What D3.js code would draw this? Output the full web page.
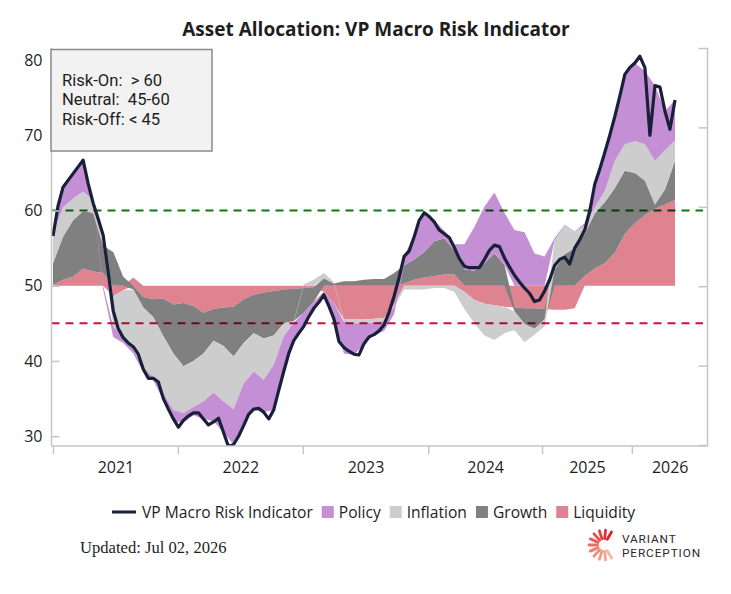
<!DOCTYPE html>
<html>
<head>
<meta charset="utf-8">
<script src="https://cdn.jsdelivr.net/npm/d3@7"></script>
<style>
  body { margin: 0; background: #fff; }
  svg text { font-family: "Open Sans", "Noto Sans", sans-serif; fill: #1e1e1e; }
</style>
</head>
<body>
<svg id="chart" width="731" height="594"></svg>
<script>
// VP Macro Risk Indicator, one value per period (line)
const riskLine = [
  56.6, 60.6, 63.1, 64.0, 64.9, 65.8, 66.7, 63.6, 61.0, 58.9,
  56.7, 51.8, 46.7, 44.3, 43.1, 42.4, 41.9, 40.9, 38.9, 37.7,
  37.7, 37.2, 35.0, 33.6, 32.3, 31.2, 32.1, 32.7, 33.1, 33.1,
  32.3, 31.5, 31.9, 32.4, 30.5, 28.6, 28.9, 30.0, 31.4, 32.9,
  33.6, 33.7, 33.2, 32.3, 33.5, 36.1, 38.6, 41.0, 42.7, 43.7,
  44.6, 45.9, 47.0, 47.8, 48.8, 47.3, 45.6, 42.6, 41.8, 41.3,
  40.9, 40.8, 42.3, 43.2, 43.5, 44.0, 44.8, 46.5, 48.6, 51.1,
  53.9, 54.6, 56.5, 58.7, 59.7, 59.2, 58.5, 57.4, 56.9, 56.4,
  55.1, 53.6, 52.6, 52.4, 52.4, 52.4, 53.5, 54.7, 55.4, 55.2,
  53.7, 52.5, 51.4, 50.5, 49.7, 49.0, 47.9, 48.1, 49.3, 50.8,
  52.7, 53.5, 53.8, 52.9, 55.0, 56.1, 57.4, 59.9, 63.5, 65.5,
  67.7, 70.0, 72.5, 75.2, 78.1, 79.0, 79.6, 80.5, 79.0, 70.0,
  76.6, 76.4, 73.2, 70.8, 74.7
];

// contributions around the neutral level, every second period
const liquidity = [
  0.1, 0.8, 1.2, 2.3, 1.9, 1.7, -1.4, -0.6, 1.1, -1.5,
  -1.8, -1.7, -2.5, -2.3, -2.7, -3.6, -3.1, -2.9, -2.8, -1.8,
  -1.2, -0.9, -0.7, -0.5, -0.4, -0.3, -0.2, -0.8, -2.3, -4.5,
  -4.5, -4.5, -4.4, -4.3, -2.5, 0.3, 0.8, 1.1, 1.3, 1.5,
  1.5, -0.8, -1.9, -2.4, -2.6, -2.8, -2.9, -3.0, -3.0, -3.1,
  -3.2, -3.2, -3.0, 1.3, 2.3, 3.0, 4.4, 6.9, 8.3, 9.4,
  10.2, 10.8, 11.4
];
const growth = [
  2.9, 5.7, 7.5, 7.6, 7.8, 3.6, 4.5, 1.2, -0.5, -1.4,
  -2.4, -5.0, -6.5, -8.4, -7.3, -5.4, -4.2, -5.1, -6.6, -5.8,
  -5.1, -6.1, -5.9, -4.5, -4.3, -3.3, -1.9, 1.0, 0.3, 0.6,
  0.6, 0.8, 0.9, 0.9, 1.7, 2.4, 2.7, 3.4, 4.6, 4.8,
  3.2, 2.2, 2.0, 3.0, 4.3, 2.8, -0.5, -2.1, -2.7, -1.4,
  2.1, 4.2, 5.0, 5.6, 7.3, 8.1, 8.6, 8.4, 6.7, 4.6,
  0.6, 2.0, 5.2
];
const inflation = [
  3.8, 3.9, 2.9, 2.6, 1.7, 0.2, -4.0, -6.4, -8.0, -8.1,
  -7.9, -7.6, -7.5, -6.2, -6.1, -6.4, -6.9, -7.4, -7.0, -5.4,
  -5.1, -5.5, -3.9, -1.7, -0.2, 0.2, 0.8, 0.7, 0.2, -0.3,
  -0.5, -0.5, -0.5, -0.4, -0.3, -0.5, -0.5, -0.5, -0.3, -0.3,
  -0.8, -2.3, -3.1, -4.2, -4.6, -3.5, -2.5, -2.4, -0.8, -0.9,
  3.9, 3.8, 2.2, 1.1, 0.8, 1.5, 3.6, 3.5, 4.2, 4.8,
  5.8, 5.2, 2.7
];
const policy = [
  0.1, 2.7, 3.3, 4.2, 0.2, -0.5, -1.4, -0.6, -0.5, -0.5,
  -0.5, -0.9, -1.5, -1.3, -1.1, -2.3, -3.8, -4.1, -4.7, -5.6,
  -5.0, -4.3, -6.0, -4.7, -2.5, -2.0, -0.9, -0.3, -2.1, -4.2,
  -4.2, -2.8, -1.6, -1.3, -1.0, 1.4, 3.0, 5.2, 2.8, 1.0,
  0.8, 3.3, 5.8, 7.5, 8.1, 6.9, 7.4, 7.1, 4.3, 3.9,
  0.3, 0.1, 0.05, 0.3, 3.1, 5.1, 5.9, 9.3, 10.4, 9.7,
  10.0, 5.2, 5.4
];

const yearStart = [0, 24.9, 49.8, 74.8, 97.5, 115.4];   // period index where each year begins
const yearLabels = ["2021", "2022", "2023", "2024", "2025", "2026"];
const yTicks = [30, 40, 50, 60, 70, 80];
const thresholds = [60, 45];
const boxLines = ["Risk-On:  > 60", "Neutral:  45-60", "Risk-Off: < 45"];

const BASE = 50;
const keys = ["liquidity", "growth", "inflation", "policy"];
const names = { liquidity: "Liquidity", growth: "Growth", inflation: "Inflation", policy: "Policy" };
const colors = { liquidity: "#df8391", growth: "#808080", inflation: "#cdcdcd", policy: "#c58fd6" };
const lineColor = "#19203a";

const svg = d3.select("#chart");
const pL = 51.5, pR = 707.5, pT = 48, pB = 446;

var x = d3.scaleLinear().domain([0, riskLine.length - 1]).range([53, 675]);
var y = d3.scaleLinear().domain([28.7, 81.6]).range([pB, pT]);

svg.append("defs").append("clipPath").attr("id", "plotclip")
  .append("rect").attr("x", pL).attr("y", pT)
  .attr("width", pR - pL).attr("height", pB - pT);

// stacked contributions (positive above 50, negative below)
var rows = liquidity.map(function (v, k) {
  return { i: k * 2, liquidity: v, growth: growth[k], inflation: inflation[k], policy: policy[k] };
});
var series = d3.stack().keys(keys).offset(d3.stackOffsetDiverging)(rows);

var area = d3.area()
  .x(function (d) { return x(d.data.i); })
  .y0(function (d) { return y(BASE + d[0]); })
  .y1(function (d) { return y(BASE + d[1]); });

var plot = svg.append("g").attr("clip-path", "url(#plotclip)");
plot.selectAll(".layer")
  .data(series)
  .enter().append("path")
  .attr("class", "layer")
  .attr("d", area)
  .style("fill", function (d) { return colors[d.key]; });

// threshold lines
plot.selectAll(".threshold")
  .data(thresholds)
  .enter().append("line")
  .attr("class", "threshold")
  .attr("x1", pL).attr("x2", 703)
  .attr("y1", function (d) { return y(d); })
  .attr("y2", function (d) { return y(d); })
  .style("stroke", function (d) { return d === 60 ? "#0b7a0b" : "#d0103a"; })
  .style("stroke-width", 2)
  .style("stroke-dasharray", "8,6")
  .style("mix-blend-mode", "multiply");

var line = d3.line()
  .x(function (d, i) { return x(i); })
  .y(function (d) { return y(d); });

plot.append("path")
  .datum(riskLine)
  .attr("d", line)
  .style("fill", "none")
  .style("stroke", lineColor)
  .style("stroke-width", 3.2)
  .style("stroke-linejoin", "round");

// axes
var axisColor = "#c6c6c6";

var yAxis = svg.append("g")
  .attr("transform", "translate(" + pL + ",0)")
  .call(d3.axisLeft(y).tickValues(yTicks).tickSize(-8).tickSizeOuter(0).tickPadding(9));
yAxis.select(".domain").remove();
yAxis.append("line").attr("class", "axisline").attr("x1", 0).attr("x2", 0).attr("y1", pT).attr("y2", pB);

var rAxis = svg.append("g")
  .attr("transform", "translate(" + pR + ",0)")
  .call(d3.axisRight(d3.scaleLinear().domain([0, 5]).range([pB - 1, pT])).ticks(5).tickSize(-9).tickSizeOuter(0).tickFormat(""));
rAxis.select(".domain").remove();
rAxis.append("line").attr("class", "axisline").attr("x1", 0).attr("x2", 0).attr("y1", pT).attr("y2", pB);

var xAxis = svg.append("g")
  .attr("transform", "translate(0," + pB + ")")
  .call(d3.axisBottom(x).tickValues(yearStart).tickSize(8).tickSizeOuter(0).tickFormat(""));
xAxis.select(".domain").remove();
xAxis.append("line").attr("class", "axisline").attr("x1", pL).attr("x2", pR).attr("y1", 0).attr("y2", 0);

var endIndex = x.invert(pR);
var yearMid = yearStart.map(function (s, i) {
  return (s + (i < yearStart.length - 1 ? yearStart[i + 1] : endIndex)) / 2;
});
var xLabels = svg.append("g")
  .attr("transform", "translate(0," + pB + ")")
  .call(d3.axisBottom(x).tickValues(yearMid).tickSize(0).tickPadding(16)
    .tickFormat(function (d, i) { return yearLabels[i]; }));
xLabels.select(".domain").remove();

svg.selectAll(".tick line, .axisline").style("stroke", axisColor).style("stroke-width", 1.5);
svg.selectAll(".tick text").style("font-size", "16px").style("fill", "#1e1e1e")
  .attr("font-family", null);

// title
svg.append("text")
  .attr("x", 376).attr("y", 36)
  .attr("text-anchor", "middle")
  .style("font-size", "19px").style("font-weight", "bold")
  .text("Asset Allocation: VP Macro Risk Indicator");

// regime box
svg.append("rect")
  .attr("x", 51).attr("y", 49.5).attr("width", 161).attr("height", 101.5)
  .style("fill", "#f2f2f2").style("stroke", "#8a8a8a").style("stroke-width", 1.5);
svg.selectAll(".boxline")
  .data(boxLines)
  .enter().append("text")
  .attr("class", "boxline")
  .attr("x", 62)
  .attr("y", function (d, i) { return 85.5 + i * 19.5; })
  .style("font-family", "Roboto, 'Open Sans', sans-serif")
  .style("font-size", "16.6px")
  .style("white-space", "pre")
  .text(function (d) { return d; });

// legend
var legend = svg.append("g").attr("transform", "translate(0,512)");
var lx = 112;
legend.append("line").attr("x1", lx).attr("x2", lx + 24).attr("y1", 0).attr("y2", 0)
  .style("stroke", lineColor).style("stroke-width", 3);
lx += 30;
var t = legend.append("text").attr("x", lx).attr("y", 5.5).style("font-size", "15.6px").text("VP Macro Risk Indicator");
lx += t.node().getComputedTextLength() + 9;
["policy", "inflation", "growth", "liquidity"].forEach(function (k) {
  legend.append("rect").attr("x", lx).attr("y", -6).attr("width", 12).attr("height", 12)
    .style("fill", colors[k]);
  lx += 17;
  var tt = legend.append("text").attr("x", lx).attr("y", 5.5).style("font-size", "15.6px").text(names[k]);
  lx += tt.node().getComputedTextLength() + 9;
});

// footer
svg.append("text")
  .attr("x", 80).attr("y", 553)
  .style("font-family", "'Liberation Serif', 'DejaVu Serif', serif")
  .style("font-size", "16.6px")
  .text("Updated: Jul 02, 2026");

// logo
var logo = svg.append("g").attr("transform", "translate(604,545)");
var rays = d3.range(11);
var rayColor = d3.scaleLinear().domain([0, 10]).range(["#d8242b", "#f6b6a0"]);
function rayAngle(d) { return (-60 - d * 24) * Math.PI / 180; }
logo.selectAll("line")
  .data(rays)
  .enter().append("line")
  .attr("x1", function (d) { return 6.5 * Math.cos(rayAngle(d)); })
  .attr("y1", function (d) { return 6.5 * Math.sin(rayAngle(d)); })
  .attr("x2", function (d) { return 15 * Math.cos(rayAngle(d)); })
  .attr("y2", function (d) { return 15 * Math.sin(rayAngle(d)); })
  .style("stroke", function (d) { return rayColor(d); })
  .style("stroke-width", 2.8)
  .style("stroke-linecap", "round");
var logoText = svg.selectAll(".logotext")
  .data(["VARIANT", "PERCEPTION"])
  .enter().append("text")
  .attr("class", "logotext")
  .attr("x", 622)
  .attr("y", function (d, i) { return 543 + i * 14.3; })
  .style("font-family", "Roboto, sans-serif")
  .style("font-size", "11.8px")
  .style("letter-spacing", "0.9px")
  .style("fill", "#2a2a2a")
  .text(function (d) { return d; });
</script>
</body>
</html>
